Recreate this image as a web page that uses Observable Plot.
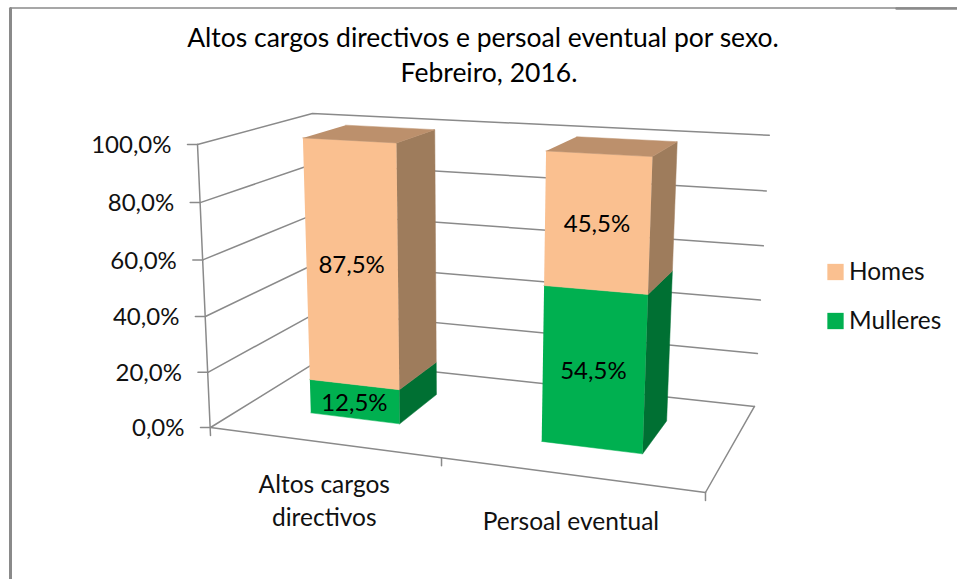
<!DOCTYPE html>
<html>
<head>
<meta charset="utf-8">
<script src="https://cdn.jsdelivr.net/npm/d3@7"></script>
<script src="https://cdn.jsdelivr.net/npm/@observablehq/plot@0.6"></script>
<style>html,body{margin:0;padding:0;background:#fff}svg{display:block}</style>
</head>
<body>
<div id="chart"></div>
<script>
const titleLines = ["Altos cargos directivos e persoal eventual por sexo.", "Febreiro, 2016."];
const categories = ["Altos cargos\ndirectivos", "Persoal eventual"];
const series = ["Mulleres", "Homes"];
const mulleres = [12.5, 54.5];
const homes = [87.5, 45.5];
const yTicks = [0, 20, 40, 60, 80, 100];
const seriesValues = [mulleres, homes];
const legendOrder = ["Homes", "Mulleres"];

const faceColors = {
  Mulleres: {front: "#00B050", side: "#007033", top: "#008F41"},
  Homes: {front: "#FAC090", side: "#9E7C5C", top: "#BC906C"}
};
const axisColor = "#8A8A8A";
const font = "Lato, Carlito, Calibri, sans-serif";
const pct = (v) => v.toFixed(1).replace(".", ",") + "%";

// Perspective camera of the 3D chart box: u across categories, v up the value axis, d into the depth.
function project(u, v, d) {
  const w = 1 - 0.1248 * u - 0.032 * v + 0.1547 * d;
  const x = (210 + 407 * u - 19.3 * v + 159.5 * d) / w + 10 * u * v;
  const y = (427 + 3.6 * u - 287.6 * v - 12.5 * d) / w + 4 * u * v;
  return {x, y};
}
const bandCenter = (i) => (i + 0.5) / categories.length;
const halfBar = 0.1, depthFront = 0.3, depthBack = 0.7;
const polygon = (pts, fill) => Plot.line(pts, {x: "x", y: "y", fill, stroke: fill, strokeWidth: 0.5});
const segment = (a, b, strokeWidth = 1.5, stroke = axisColor) => Plot.line([a, b], {x: "x", y: "y", stroke, strokeWidth});

const marks = [];

// Outer chart frame
marks.push(segment({x: 10, y: 579}, {x: 10, y: 8}, 3));
marks.push(segment({x: 10, y: 7.5}, {x: 957, y: 7.5}, 1.5));
marks.push(segment({x: 896, y: 8}, {x: 957, y: 8}, 2.5));

// Gridlines on the side and back walls
for (const t of yTicks) {
  const v = t / 100;
  marks.push(Plot.line([project(0, v, 0), project(0, v, 1), project(1, v, 1)], {x: "x", y: "y", stroke: axisColor, strokeWidth: 1.5}));
  const p = project(0, v, 0);
  marks.push(segment(p, {x: p.x - 10, y: p.y}));
}
// Value axis and floor
marks.push(segment(project(0, 1, 0), {x: project(0, 0, 0).x, y: project(0, 0, 0).y + 8}));
marks.push(segment(project(0, 0, 0), project(1, 0, 0)));
marks.push(segment(project(1, 0, 0), project(1, 0, 1)));
for (const u of [0.5, 1]) {
  const p = project(u, 0, 0);
  marks.push(segment(p, {x: p.x, y: p.y + 8}));
}

// Stacked 3D bars
categories.forEach((_, i) => {
  const c = bandCenter(i), u0 = c - halfBar, u1 = c + halfBar;
  let base = 0;
  series.forEach((s, k) => {
    const value = seriesValues[k][i], v0 = base / 100, v1 = (base + value) / 100;
    base += value;
    const col = faceColors[s];
    marks.push(polygon([project(u0, v0, depthFront), project(u1, v0, depthFront), project(u1, v1, depthFront), project(u0, v1, depthFront)], col.front));
    marks.push(polygon([project(u1, v0, depthFront), project(u1, v0, depthBack), project(u1, v1, depthBack), project(u1, v1, depthFront)], col.side));
    if (k === series.length - 1) {
      marks.push(polygon([project(u0, v1, depthFront), project(u1, v1, depthFront), project(u1, v1, depthBack), project(u0, v1, depthBack)], col.top));
    }
  });
});

// Data labels
const labelRows = [];
categories.forEach((_, i) => {
  let base = 0;
  series.forEach((s, k) => {
    const value = seriesValues[k][i];
    const p = project(bandCenter(i), (base + value / 2) / 100, depthFront);
    labelRows.push({...p, label: pct(value)});
    base += value;
  });
});
marks.push(Plot.text(labelRows, {x: "x", y: "y", text: "label", dy: 1.5, fontSize: 24, fontFamily: font, fill: "#000"}));

// Value tick labels
marks.push(Plot.text(yTicks.map((t) => ({...project(0, t / 100, 0), label: pct(t)})), {
  x: "x", y: "y", text: "label", textAnchor: "end", dx: -26, dy: 1, fontSize: 24, fontFamily: font, fill: "#111"
}));

// Category labels
marks.push(Plot.text(categories.map((label, i) => {
  const p = project(bandCenter(i), 0, 0);
  return {x: p.x + 2, y: p.y + 33 + 12 * label.split("\n").length, label};
}), {x: "x", y: "y", text: "label", lineHeight: 1.36, fontSize: 24.5, fontFamily: font, fill: "#111"}));

// Title
marks.push(Plot.text(titleLines, {x: (d, i) => 482.5 + 6 * i, y: (d, i) => 38 + 35.5 * i, text: (d) => d, fontSize: 26.5, fontFamily: font, fill: "#000"}));

// Legend
legendOrder.forEach((s, i) => {
  const y = 271.5 + 49 * i;
  marks.push(Plot.dot([s], {x: () => 835, y: () => y, symbol: "square", r: 9.2, fill: faceColors[s].front, stroke: "none"}));
  marks.push(Plot.text([s], {x: () => 848.5, y: () => y, text: (d) => d, textAnchor: "start", fontSize: 24.4, fontFamily: font, fill: "#111"}));
});

const chart = Plot.plot({
  width: 957,
  height: 579,
  margin: 0,
  style: {background: "#fff"},
  x: {domain: [0, 957], range: [0, 957], axis: null},
  y: {domain: [0, 579], range: [0, 579], axis: null},
  marks
});
document.getElementById("chart").append(chart);
</script>
</body>
</html>
